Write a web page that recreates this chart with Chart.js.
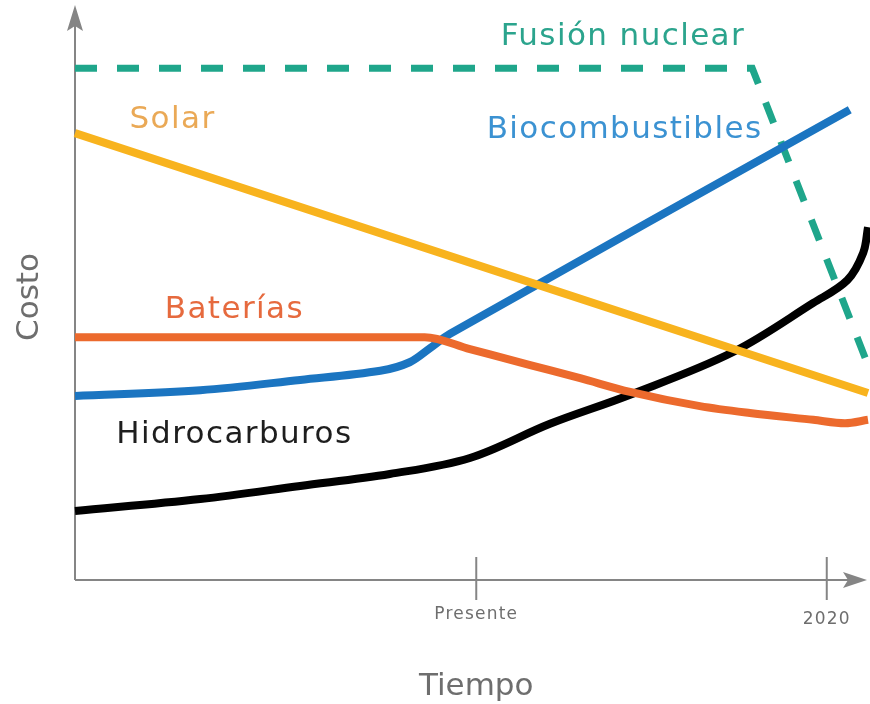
<!DOCTYPE html>
<html>
<head>
<meta charset="utf-8">
<script src="https://cdn.jsdelivr.net/npm/chart.js@4"></script>
<style>
  html, body { margin: 0; padding: 0; background: #fff; }
  #wrap { width: 870px; height: 704px; }
</style>
</head>
<body>
<div id="wrap"><canvas id="myChart" width="870" height="704"></canvas></div>
<script>
'use strict';

// x is "time" 0..100, y is "cost" 0..100 (concept chart, no real units)
const fusionX = [0, 85.4, 100];
const fusionY = [89.8, 89.8, 37.7];

const solarX = [0, 100];
const solarY = [78.4, 32.8];

const bioX = [0, 15.8, 28.4, 38.5, 42.2, 44.8, 47.3, 97.7];
const bioY = [32.3, 33.3, 35.1, 36.7, 38.2, 40.7, 43.2, 82.5];

const bateriasX = [0, 44.1, 49.8, 57.4, 63.7, 70.0, 78.8, 85.1, 93.1, 97.1, 100];
const bateriasY = [42.6, 42.6, 40.5, 37.7, 35.4, 33.0, 30.5, 29.3, 28.1, 27.5, 28.1];

const hidroX = [0, 15.8, 28.4, 39.7, 49.8, 59.9, 70.0, 83.0, 93.1, 97.4, 99.4, 100];
const hidroY = [12.1, 14.2, 16.5, 18.6, 21.4, 27.4, 32.5, 40.0, 48.6, 52.6, 57.4, 61.9];

const tickValues = [50.6, 94.8];
const tickLabels = ['Presente', '2020'];

function toPoints(xs, ys) {
  let pts = [];
  for (let i = 0; i < xs.length; i++) {
    pts.push({ x: xs[i], y: ys[i] });
  }
  return pts;
}

const FONT = '"DejaVu Sans", sans-serif';
const axisColor = '#858585';

// series labels drawn next to the lines
const seriesLabels = [
  { text: 'Fusión nuclear', x: 69.1, y: 95.3, color: '#2ba48d' },
  { text: 'Solar', x: 12.3, y: 80.7, color: '#eaa956' },
  { text: 'Biocombustibles', x: 69.3, y: 78.9, color: '#3b92d2' },
  { text: 'Baterías', x: 20.1, y: 47.4, color: '#e66a3e' },
  { text: 'Hidrocarburos', x: 20.1, y: 25.4, color: '#1e1e1e' }
];

function arrowHead(ctx, tipX, tipY, dir) {
  // dir: 'up' or 'right'
  ctx.beginPath();
  if (dir === 'up') {
    ctx.moveTo(tipX, tipY);
    ctx.lineTo(tipX + 8, tipY + 26);
    ctx.lineTo(tipX, tipY + 21);
    ctx.lineTo(tipX - 8, tipY + 26);
  } else {
    ctx.moveTo(tipX, tipY);
    ctx.lineTo(tipX - 24, tipY + 8);
    ctx.lineTo(tipX - 19, tipY);
    ctx.lineTo(tipX - 24, tipY - 8);
  }
  ctx.closePath();
  ctx.fill();
}

const axisPlugin = {
  id: 'axisArrows',
  beforeDatasetsDraw(chart) {
    const ctx = chart.ctx;
    const xs = chart.scales.x;
    const ys = chart.scales.y;
    const x0 = xs.getPixelForValue(0);
    const y0 = ys.getPixelForValue(0);
    ctx.save();
    ctx.strokeStyle = axisColor;
    ctx.fillStyle = axisColor;
    ctx.lineWidth = 2;
    // y axis
    ctx.beginPath();
    ctx.moveTo(x0, y0);
    ctx.lineTo(x0, 12);
    ctx.stroke();
    arrowHead(ctx, x0, 5, 'up');
    // x axis
    ctx.beginPath();
    ctx.moveTo(x0, y0);
    ctx.lineTo(860, y0);
    ctx.stroke();
    arrowHead(ctx, 867, y0, 'right');
    // ticks
    for (let i = 0; i < tickValues.length; i++) {
      let px = xs.getPixelForValue(tickValues[i]);
      ctx.beginPath();
      ctx.moveTo(px, y0 - 23);
      ctx.lineTo(px, y0 + 20);
      ctx.stroke();
    }
    ctx.restore();
  },
  afterDraw(chart) {
    const ctx = chart.ctx;
    const xs = chart.scales.x;
    const ys = chart.scales.y;
    const y0 = ys.getPixelForValue(0);
    ctx.save();
    ctx.textAlign = 'center';
    ctx.textBaseline = 'middle';

    // tick labels
    ctx.fillStyle = '#6e6e6e';
    ctx.font = '17px ' + FONT;
    ctx.letterSpacing = '1.2px';
    for (let i = 0; i < tickValues.length; i++) {
      let px = xs.getPixelForValue(tickValues[i]);
      ctx.fillText(tickLabels[i], px, y0 + (i === 0 ? 35 : 40));
    }

    // axis titles
    ctx.fillStyle = '#6e6e6e';
    ctx.font = '31px ' + FONT;
    ctx.letterSpacing = '0px';
    ctx.fillText('Tiempo', xs.getPixelForValue(50.6), 687);
    ctx.save();
    ctx.translate(30, 297);
    ctx.rotate(-Math.PI / 2);
    ctx.fillText('Costo', 0, 0);
    ctx.restore();

    // series labels
    ctx.font = '31px ' + FONT;
    ctx.letterSpacing = '1.4px';
    for (let i = 0; i < seriesLabels.length; i++) {
      let lab = seriesLabels[i];
      ctx.fillStyle = lab.color;
      ctx.fillText(lab.text, xs.getPixelForValue(lab.x), ys.getPixelForValue(lab.y));
    }
    ctx.restore();
  }
};

function lineSet(label, xs, ys, color, extra) {
  let ds = {
    label: label,
    data: toPoints(xs, ys),
    borderColor: color,
    backgroundColor: color,
    borderWidth: 8,
    pointRadius: 0,
    fill: false,
    tension: 0.35,
    borderCapStyle: 'butt',
    borderJoinStyle: 'round',
    clip: false
  };
  return Object.assign(ds, extra || {});
}

const ctx = document.getElementById('myChart');

new Chart(ctx, {
  type: 'line',
  data: {
    datasets: [
      lineSet('Solar', solarX, solarY, '#f8b31e'),
      lineSet('Baterías', bateriasX, bateriasY, '#ec6a2d', {
        cubicInterpolationMode: 'monotone'
      }),
      lineSet('Hidrocarburos', hidroX, hidroY, '#000000'),
      lineSet('Biocombustibles', bioX, bioY, '#1b75c1'),
      lineSet('Fusión nuclear', fusionX, fusionY, '#1fa68b', {
        borderWidth: 7,
        borderDash: [22, 20],
        borderJoinStyle: 'miter',
        tension: 0
      })
    ]
  },
  options: {
    responsive: false,
    animation: false,
    layout: {
      padding: { left: 75, right: 2, top: 10, bottom: 124 }
    },
    plugins: {
      legend: { display: false },
      tooltip: { enabled: false }
    },
    scales: {
      x: { type: 'linear', min: 0, max: 100, display: false },
      y: { type: 'linear', min: 0, max: 100, display: false }
    }
  },
  plugins: [axisPlugin]
});
</script>
</body>
</html>
